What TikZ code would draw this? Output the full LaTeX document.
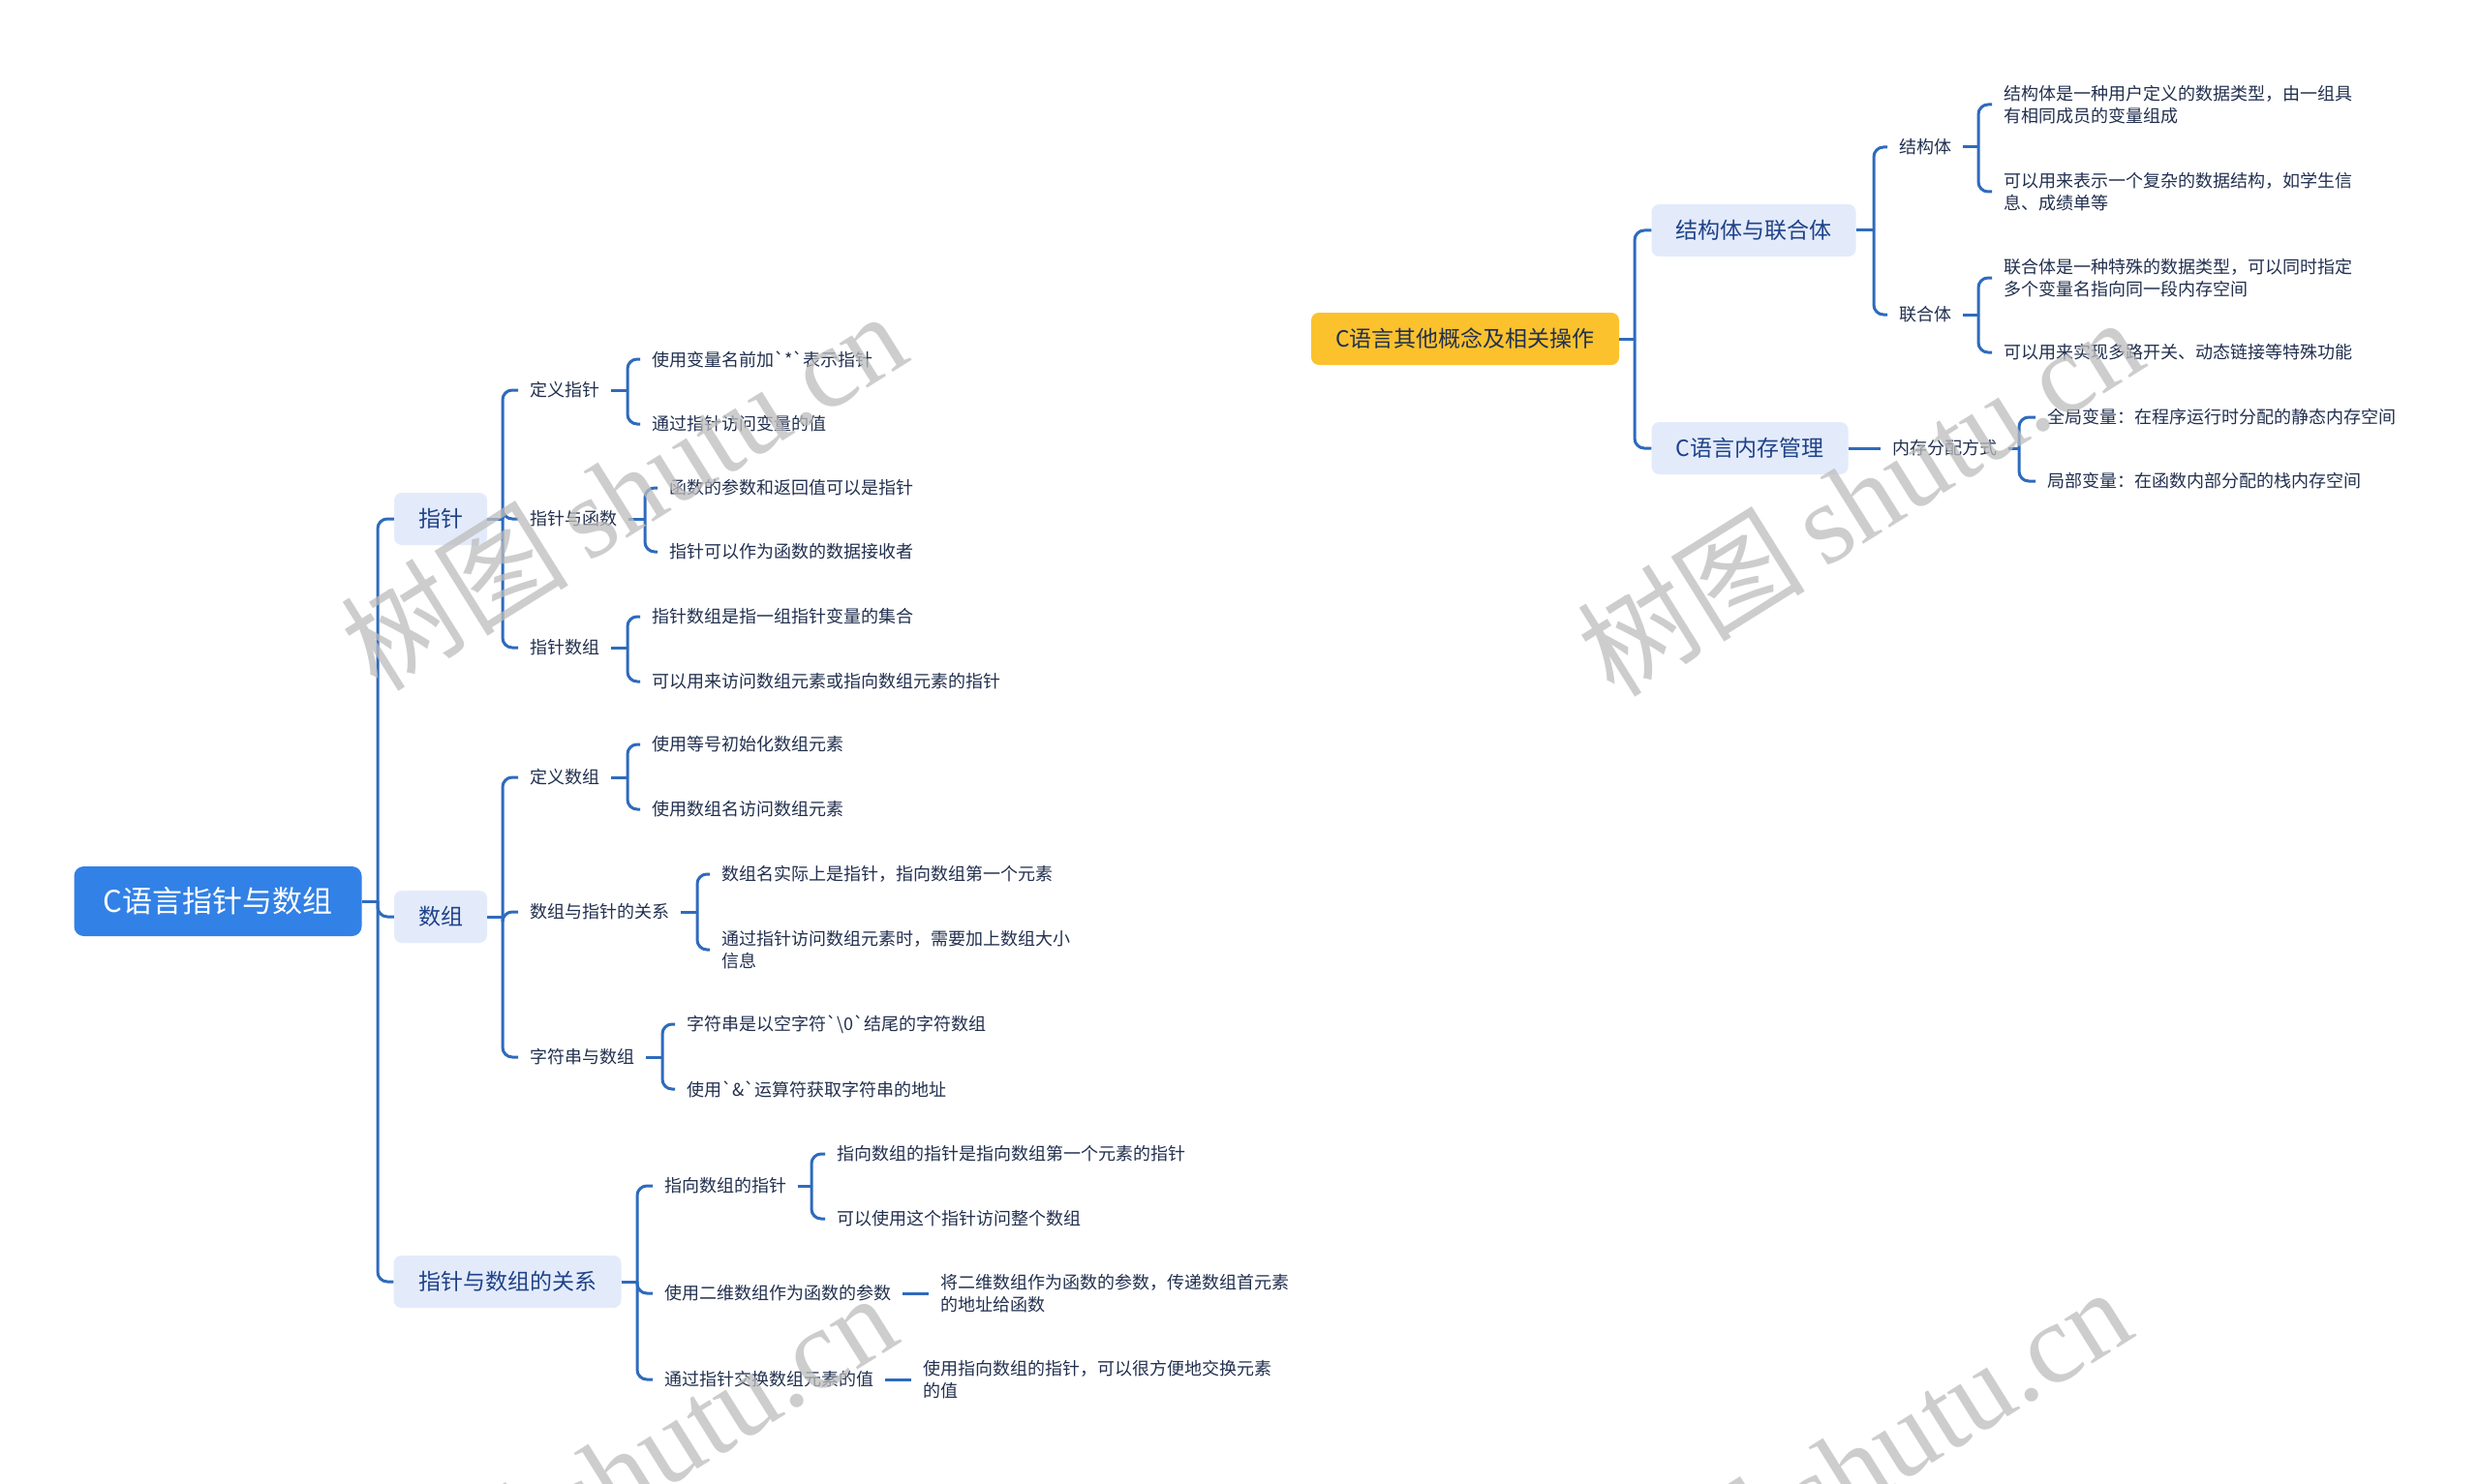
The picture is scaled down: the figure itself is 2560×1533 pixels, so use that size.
\documentclass[tikz,border=0pt]{standalone}
\usepackage{fontspec}
\newfontfamily\cjk{Noto Sans CJK SC}
\newfontfamily\wmser{Liberation Serif}
\definecolor{lc}{HTML}{2E6BBD}
\definecolor{rootblue}{HTML}{3281E6}
\definecolor{rootyel}{HTML}{FBC22E}
\definecolor{lonefill}{HTML}{E3EBFB}
\definecolor{lonetxt}{HTML}{1F4288}
\definecolor{leaftxt}{HTML}{22304F}
\definecolor{wmgray}{HTML}{BDBDBD}
\begin{document}
\begin{tikzpicture}[x=1pt,y=-1pt,
  conn/.style={draw=lc, line width=3pt, rounded corners=10pt},
  leaf/.style={anchor=west, inner xsep=12pt, inner ysep=2pt, text=leaftxt, align=left, font=\cjk\fontsize{18}{23}\selectfont},
  lone/.style={rounded corners=8pt, fill=lonefill, text=lonetxt, minimum height=54pt, inner xsep=0pt, font=\cjk\fontsize{23}{28}\selectfont},
  rootl/.style={rounded corners=10pt, fill=rootblue, text=white, minimum width=297pt, minimum height=72pt, font=\cjk\fontsize{31}{36}\selectfont},
  rootr/.style={rounded corners=8pt, fill=rootyel, text=leaftxt, minimum width=318pt, minimum height=54pt, font=\cjk\fontsize{23}{28}\selectfont},
  wm/.style={text=wmgray, opacity=0.75, rotate=32, font=\fontsize{118}{128}\selectfont}
]
\useasboundingbox (0,0) rectangle (2560,1533);
\fill[white] (0,0) rectangle (2560,1533);

% ---------- left tree ----------
\node[rootl] (root) at (225,931) {C语言指针与数组};
\node[lone, minimum width=96pt] (zz) at (455,536) {指针};
\node[lone, minimum width=96pt] (sz) at (455,947) {数组};
\node[lone, minimum width=235pt] (gx) at (524,1324) {指针与数组的关系};

\node[leaf] (dyzz) at (535,403) {定义指针};
\node[leaf] (zzhs) at (535,536) {指针与函数};
\node[leaf] (zzsz) at (535,669) {指针数组};
\node[leaf] (a1) at (661,371) {使用变量名前加\symbol{96}*\symbol{96}表示指针};
\node[leaf] (a2) at (661,438) {通过指针访问变量的值};
\node[leaf] (b1) at (679,504) {函数的参数和返回值可以是指针};
\node[leaf] (b2) at (679,570) {指针可以作为函数的数据接收者};
\node[leaf] (c1) at (661,637) {指针数组是指一组指针变量的集合};
\node[leaf] (c2) at (661,704) {可以用来访问数组元素或指向数组元素的指针};

\node[leaf] (dysz) at (535,803) {定义数组};
\node[leaf] (szzz) at (535,942) {数组与指针的关系};
\node[leaf] (zfc) at (535,1092) {字符串与数组};
\node[leaf] (d1) at (661,769) {使用等号初始化数组元素};
\node[leaf] (d2) at (661,836) {使用数组名访问数组元素};
\node[leaf] (e1) at (733,903) {数组名实际上是指针，指向数组第一个元素};
\node[leaf] (e2) at (733,981) {通过指针访问数组元素时，需要加上数组大小\\信息};
\node[leaf] (f1) at (697,1058) {字符串是以空字符\symbol{96}\textbackslash 0\symbol{96}结尾的字符数组};
\node[leaf] (f2) at (697,1125) {使用\symbol{96}\&\symbol{96}运算符获取字符串的地址};

\node[leaf] (zxsz) at (674,1225) {指向数组的指针};
\node[leaf] (ewsz) at (674,1336) {使用二维数组作为函数的参数};
\node[leaf] (jhz) at (674,1425) {通过指针交换数组元素的值};
\node[leaf] (g1) at (852,1192) {指向数组的指针是指向数组第一个元素的指针};
\node[leaf] (g2) at (852,1259) {可以使用这个指针访问整个数组};
\node[leaf] (h1) at (959,1336) {将二维数组作为函数的参数，传递数组首元素\\的地址给函数};
\node[leaf] (i1) at (941,1425) {使用指向数组的指针，可以很方便地交换元素\\的值};

% connectors left
\draw[conn] (root.east) -- (390,931) coordinate (t0);
\foreach \c in {zz,sz,gx} \draw[conn] (t0) |- (\c.west);

\draw[conn] (zz.east) -- (519,536) coordinate (t1);
\foreach \c in {dyzz,zzhs,zzsz} \draw[conn] (t1) |- (\c.west);
\draw[conn] (dyzz.east) -- (648,403) coordinate (t2);
\foreach \c in {a1,a2} \draw[conn] (t2) |- (\c.west);
\draw[conn] (zzhs.east) -- (666,536) coordinate (t3);
\foreach \c in {b1,b2} \draw[conn] (t3) |- (\c.west);
\draw[conn] (zzsz.east) -- (648,669) coordinate (t4);
\foreach \c in {c1,c2} \draw[conn] (t4) |- (\c.west);

\draw[conn] (sz.east) -- (519,947) coordinate (t5);
\foreach \c in {dysz,szzz,zfc} \draw[conn] (t5) |- (\c.west);
\draw[conn] (dysz.east) -- (648,803) coordinate (t6);
\foreach \c in {d1,d2} \draw[conn] (t6) |- (\c.west);
\draw[conn] (szzz.east) -- (720,942) coordinate (t7);
\foreach \c in {e1,e2} \draw[conn] (t7) |- (\c.west);
\draw[conn] (zfc.east) -- (684,1092) coordinate (t8);
\foreach \c in {f1,f2} \draw[conn] (t8) |- (\c.west);

\draw[conn] (gx.east) -- (658,1324) coordinate (t9);
\foreach \c in {zxsz,ewsz,jhz} \draw[conn] (t9) |- (\c.west);
\draw[conn] (zxsz.east) -- (838,1225) coordinate (t10);
\foreach \c in {g1,g2} \draw[conn] (t10) |- (\c.west);
\draw[conn] (ewsz.east) -- (h1.west);
\draw[conn] (jhz.east) -- (i1.west);

% ---------- right tree ----------
\node[rootr] (rr) at (1513,350) {C语言其他概念及相关操作};
\node[lone, minimum width=211pt] (jg) at (1811,238) {结构体与联合体};
\node[lone, minimum width=203pt] (nc) at (1807,463) {C语言内存管理};

\node[leaf] (jgt) at (1949,152) {结构体};
\node[leaf] (lht) at (1949,325) {联合体};
\node[leaf] (j1) at (2057,108) {结构体是一种用户定义的数据类型，由一组具\\有相同成员的变量组成};
\node[leaf] (j2) at (2057,198) {可以用来表示一个复杂的数据结构，如学生信\\息、成绩单等};
\node[leaf] (k1) at (2057,287) {联合体是一种特殊的数据类型，可以同时指定\\多个变量名指向同一段内存空间};
\node[leaf] (k2) at (2057,364) {可以用来实现多路开关、动态链接等特殊功能};
\node[leaf] (fp) at (1942,463) {内存分配方式};
\node[leaf] (m1) at (2102,431) {全局变量：在程序运行时分配的静态内存空间};
\node[leaf] (m2) at (2102,497) {局部变量：在函数内部分配的栈内存空间};

\draw[conn] (rr.east) -- (1688,350) coordinate (r0);
\foreach \c in {jg,nc} \draw[conn] (r0) |- (\c.west);
\draw[conn] (jg.east) -- (1935,238) coordinate (r1);
\foreach \c in {jgt,lht} \draw[conn] (r1) |- (\c.west);
\draw[conn] (jgt.east) -- (2043,152) coordinate (r2);
\foreach \c in {j1,j2} \draw[conn] (r2) |- (\c.west);
\draw[conn] (lht.east) -- (2043,325) coordinate (r3);
\foreach \c in {k1,k2} \draw[conn] (r3) |- (\c.west);
\draw[conn] (nc.east) -- (fp.west);
\draw[conn] (fp.east) -- (2085,463) coordinate (r4);
\foreach \c in {m1,m2} \draw[conn] (r4) |- (\c.west);

% ---------- watermarks ----------
\node[wm] (w1) at (643,506) {\cjk 树图\,\wmser shutu.cn};
\node[wm] (w2) at (1920,512) {\cjk 树图\,\wmser shutu.cn};
\node[wm] (w3) at (633,1520) {\cjk 树图\,\wmser shutu.cn};
\node[wm] (w4) at (1908,1514) {\cjk 树图\,\wmser shutu.cn};
\end{tikzpicture}
\end{document}
